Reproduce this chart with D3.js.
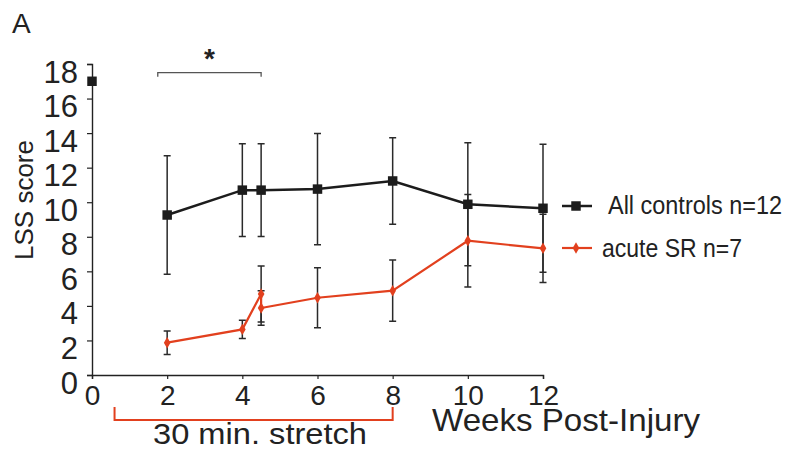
<!DOCTYPE html>
<html>
<head>
<meta charset="utf-8">
<script src="https://cdn.jsdelivr.net/npm/d3@7"></script>
<style>
  html, body { margin: 0; padding: 0; background: #fff; }
  svg { display: block; font-family: "Liberation Sans", Arial, sans-serif; }
</style>
</head>
<body>
<svg id="chart" width="790" height="451"></svg>
<script>
// ---- data ----
const xTicks = [0, 2, 4, 6, 8, 10, 12];
const yTicks = [0, 2, 4, 6, 8, 10, 12, 14, 16, 18];

const baselineWeek = [0];
const baselineValue = [17];

const controlWeeks = [2, 4, 4.5, 6, 8, 10, 12];
const controlMean  = [9.26, 10.7, 10.7, 10.76, 11.23, 9.88, 9.65];
const controlErr   = [3.43, 2.68, 2.68, 3.22, 2.5, 3.56, 3.7];

const srWeeks = [2, 4, 4.5, 4.5, 6, 8, 10, 12];
const srMean  = [1.87, 2.64, 4.69, 3.88, 4.47, 4.88, 7.77, 7.33];
const srErr   = [0.68, 0.53, 1.62, 1.0, 1.74, 1.77, 2.68, 1.97];

const seriesNames = ["All controls n=12", "acute SR n=7"];
const stretchRange = [0.6, 8];
const sigRange = [1.75, 4.5];
const sigLevel = 17.5;

// ---- setup ----
const svg = d3.select("#chart");
const x = d3.scaleLinear().domain([0, 12]).range([92, 543]);
const y = d3.scaleLinear().domain([0, 18]).range([375, 64]);

const BLACK = "#1c1c1c";
const RED = "#e2401e";
const ERR = "#2a2a2a";

const ctrl = controlWeeks.map((w, i) => ({w, m: controlMean[i], e: controlErr[i]}));
const sr = srWeeks.map((w, i) => ({w, m: srMean[i], e: srErr[i]}));

// panel letter
svg.append("text").attr("x", 12).attr("y", 33)
  .attr("font-size", 28).attr("fill", "#222").text("A");

// y axis
const yAxis = svg.append("g").attr("transform", `translate(${x(0)},0)`)
  .call(d3.axisLeft(y).tickValues(yTicks).tickSize(5).tickSizeOuter(5));
yAxis.select(".domain").attr("stroke", "#222").attr("stroke-width", 1.4);
yAxis.selectAll(".tick line").attr("stroke", "#222").attr("stroke-width", 1.2);
yAxis.selectAll(".tick text")
  .attr("x", -14).attr("dy", 18)
  .attr("font-size", 31).attr("fill", "#222")
  .attr("font-family", "Liberation Sans, Arial, sans-serif");

// x axis
const xAxis = svg.append("g").attr("transform", `translate(0,${y(0)})`)
  .call(d3.axisBottom(x).tickValues(xTicks).tickSize(4).tickSizeOuter(4));
xAxis.select(".domain").attr("stroke", "#222").attr("stroke-width", 1.4);
xAxis.selectAll(".tick line").attr("stroke", "#222").attr("stroke-width", 1.2);
xAxis.selectAll(".tick text")
  .attr("y", 30).attr("dy", 0)
  .attr("font-size", 28).attr("fill", "#222")
  .attr("font-family", "Liberation Sans, Arial, sans-serif");

// axis titles
svg.append("text")
  .attr("transform", "translate(33,200) rotate(-90)")
  .attr("text-anchor", "middle")
  .attr("font-size", 26).attr("fill", "#222")
  .text("LSS score");

svg.append("text").attr("x", 432).attr("y", 431)
  .attr("font-size", 32).attr("fill", "#222")
  .attr("textLength", 268).attr("lengthAdjust", "spacingAndGlyphs")
  .text("Weeks Post-Injury");

// stretch bracket
const bx0 = x(stretchRange[0]), bx1 = x(stretchRange[1]);
svg.append("path")
  .attr("d", `M${bx0},407V420H${bx1}V407`)
  .attr("fill", "none").attr("stroke", RED).attr("stroke-width", 2);
svg.append("text").attr("x", 153).attr("y", 444)
  .attr("font-size", 30).attr("fill", "#222")
  .attr("textLength", 214).attr("lengthAdjust", "spacingAndGlyphs")
  .text("30 min. stretch");

// significance bracket
const sx0 = x(sigRange[0]), sx1 = x(sigRange[1]), sy = y(sigLevel);
svg.append("path")
  .attr("d", `M${sx0},${sy + 4}V${sy}H${sx1}V${sy + 4}`)
  .attr("fill", "none").attr("stroke", "#555").attr("stroke-width", 1.3);
svg.append("text").attr("x", (sx0 + sx1) / 2).attr("y", sy - 5)
  .attr("text-anchor", "middle")
  .attr("font-size", 28).attr("font-weight", "bold").attr("fill", "#222")
  .text("*");

// error bars
function errorBars(data, cls) {
  const g = svg.append("g").attr("class", cls)
    .attr("stroke", ERR).attr("stroke-width", 1.5).attr("fill", "none");
  g.selectAll("path").data(data).join("path")
    .attr("d", d => {
      const cx = x(d.w), t = y(d.m + d.e), b = y(d.m - d.e);
      return `M${cx - 3.5},${t}H${cx + 3.5}M${cx},${t}V${b}M${cx - 3.5},${b}H${cx + 3.5}`;
    });
}
errorBars(ctrl, "err-ctrl");
errorBars(sr, "err-sr");

// lines
const line = d3.line().x(d => x(d.w)).y(d => y(d.m));
svg.append("path").datum(ctrl).attr("d", line)
  .attr("fill", "none").attr("stroke", BLACK).attr("stroke-width", 2.5);
svg.append("path").datum(sr).attr("d", line)
  .attr("fill", "none").attr("stroke", RED).attr("stroke-width", 2.2);

// markers
const sq = d3.symbol().type(d3.symbolSquare).size(90);
const dm = d3.symbol().type(d3.symbolDiamond).size(38);

svg.append("g").selectAll("path").data(ctrl).join("path")
  .attr("transform", d => `translate(${x(d.w)},${y(d.m)})`)
  .attr("d", sq).attr("fill", BLACK);

svg.append("g").selectAll("path")
  .data(baselineWeek.map((w, i) => ({w, m: baselineValue[i]})))
  .join("path")
  .attr("transform", d => `translate(${x(d.w)},${y(d.m)})`)
  .attr("d", sq).attr("fill", BLACK);

svg.append("g").selectAll("path").data(sr).join("path")
  .attr("transform", d => `translate(${x(d.w)},${y(d.m)})`)
  .attr("d", dm).attr("fill", RED);

// legend
const legend = [
  {name: seriesNames[0], color: BLACK, sym: sq, lw: 2.5, y: 206, tx: 608, tb: 214, tl: 174},
  {name: seriesNames[1], color: RED, sym: dm, lw: 2.2, y: 248, tx: 602, tb: 257, tl: 140}
];
const lg = svg.append("g");
legend.forEach(l => {
  lg.append("line").attr("x1", 562).attr("x2", 592).attr("y1", l.y).attr("y2", l.y)
    .attr("stroke", l.color).attr("stroke-width", l.lw);
  lg.append("path").attr("transform", `translate(576,${l.y})`).attr("d", l.sym).attr("fill", l.color);
  lg.append("text").attr("x", l.tx).attr("y", l.tb)
    .attr("font-size", 26).attr("fill", "#222")
    .attr("textLength", l.tl).attr("lengthAdjust", "spacingAndGlyphs")
    .text(l.name);
});
</script>
</body>
</html>
